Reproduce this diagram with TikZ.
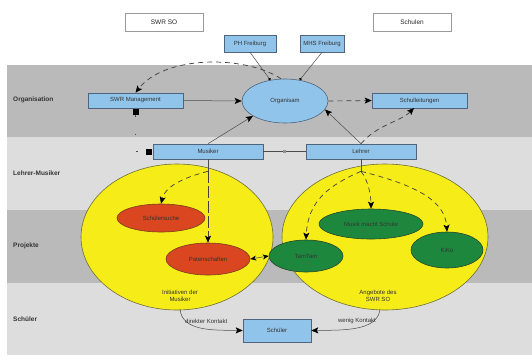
\documentclass[tikz,border=0pt]{standalone}
\usepackage{fontspec}
\setmainfont{Liberation Sans}
\usetikzlibrary{arrows.meta,shapes.geometric}
\definecolor{banddark}{RGB}{186,186,186}
\definecolor{bandlight}{RGB}{221,221,221}
\definecolor{bluefill}{RGB}{145,196,234}
\definecolor{blueline}{RGB}{80,100,125}
\definecolor{yell}{RGB}{245,236,24}
\definecolor{yellline}{RGB}{110,110,60}
\definecolor{redfill}{RGB}{217,70,32}
\definecolor{redline}{RGB}{120,60,30}
\definecolor{greenfill}{RGB}{30,135,62}
\definecolor{greenline}{RGB}{40,70,40}
\tikzset{
  txt/.style={font=\fontsize{6}{7}\selectfont, text=black!80},
  bluebox/.style={txt, draw=blueline, fill=bluefill, line width=0.6pt, inner sep=0pt},
  whitebox/.style={draw=gray!80, fill=white, line width=0.8pt, inner sep=0pt, font=\fontsize{6.5}{7}\selectfont, text=black!85},
  blobell/.style={txt, ellipse, draw=blueline, fill=bluefill, line width=0.6pt, inner sep=0pt},
  yellell/.style={ellipse, draw=yellline, fill=yell, line width=0.6pt, inner sep=0pt},
  redell/.style={txt, ellipse, draw=redline, fill=redfill, line width=0.6pt, inner sep=0pt},
  greenell/.style={txt, ellipse, draw=greenline, fill=greenfill, line width=0.6pt, inner sep=0pt},
  rowlabel/.style={anchor=west, inner sep=0pt, font=\bfseries\fontsize{6.5}{7}\selectfont, text=black!80},
  smalltext/.style={txt, align=center},
  conn/.style={line width=0.5pt, draw=black!70},
  arr/.style={-{Stealth[length=7pt,width=6pt,inset=1.5pt,color=black]}},
  dotend/.style={-{Circle[length=2.5pt,color=black]}},
  dashconn/.style={line width=0.7pt, draw=black!75, dash pattern=on 5pt off 4pt},
  sq/.style={fill=black, minimum size=6pt, inner sep=0pt},
}
\begin{document}
\begin{tikzpicture}[x=1pt,y=-1pt]
\useasboundingbox (0,0) rectangle (532,360);
\fill[white] (0,0) rectangle (532,360);
% bands
\fill[banddark] (7,65) rectangle (532,137);
\fill[bandlight] (7,137) rectangle (532,210);
\fill[banddark] (7,210) rectangle (532,283);
\fill[bandlight] (7,283) rectangle (532,355);
% row labels
\node[rowlabel] (lOrg) at (13,100) {Organisation};
\node[rowlabel] (lLM) at (13,173) {Lehrer-Musiker};
\node[rowlabel] (lPr) at (13,246) {Projekte};
\node[rowlabel] (lSc) at (13,319) {Schüler};
% top boxes
\node[whitebox, minimum width=78pt, minimum height=18pt] (swr) at (164,22) {SWR SO};
\node[whitebox, minimum width=78pt, minimum height=18pt] (schulen) at (412,22) {Schulen};
\node[bluebox, minimum width=52pt, minimum height=17pt] (ph) at (250,43.5) {PH Freiburg};
\node[bluebox, minimum width=44pt, minimum height=17pt] (mhs) at (322,43.5) {MHS Freiburg};
% yellow ellipses
\node[yellell, minimum width=192pt, minimum height=146pt] (ini) at (177,237) {};
\node[yellell, minimum width=206pt, minimum height=146pt] (ang) at (385,237) {};
\node[smalltext] (iniT) at (180,296) {Initiativen der\\Musiker};
\node[smalltext] (angT) at (378,296) {Angebote des\\SWR SO};
% organisation row
\node[bluebox, minimum width=95pt, minimum height=15pt] (mgmt) at (135.5,100.5) {SWR Management};
\node[blobell, minimum width=86pt, minimum height=44pt] (org) at (285,101) {Organisam};
\node[bluebox, minimum width=95pt, minimum height=15pt] (sl) at (419.5,100.5) {Schulleitungen};
% lehrer-musiker row
\node[bluebox, minimum width=110pt, minimum height=15pt] (mus) at (208,151.5) {Musiker};
\node[bluebox, minimum width=110pt, minimum height=15pt] (leh) at (361,151.5) {Lehrer};
% projects
\node[redell, minimum width=88pt, minimum height=28pt] (such) at (161,218) {Schülersuche};
\node[redell, minimum width=84pt, minimum height=32pt] (pat) at (208,259) {Patenschaften};
\node[greenell, minimum width=104pt, minimum height=30pt] (mms) at (371,224) {Musik macht Schule};
\node[greenell, minimum width=74pt, minimum height=32pt] (tam) at (306,256) {TamTam};
\node[greenell, minimum width=72pt, minimum height=36pt] (kiko) at (447,250) {KiKo};
% pupils
\node[bluebox, minimum width=68pt, minimum height=23pt] (sch) at (277,330.5) {Schüler};
% squares
\node[sq] (sq1) at (135.5,112) {};
\node[sq] (sq2) at (149,151.5) {};
\coordinate (corner) at (135.5,151.5);
% connectors: organisation
\draw[conn,arr] (mgmt.east) -- (org.west);
\draw[conn,arr] (mus.north) -- (org.205);
\draw[conn,arr] (leh.north) -- (org.-12);
\draw[conn,dotend] (ph.south) -- (org.125);
\draw[conn,dotend] (mhs.south) -- (org.55);
\draw[dashconn,arr] (org.100) .. controls (245,55) and (165,55) .. (mgmt.north);
\draw[dashconn,arr] (org.east) -- (sl.west);
\draw[dashconn,arr] (leh.north) .. controls (378,124) and (400,122) .. (414,108);
% squares link
\draw[line width=0.6pt, draw=black!70, dash pattern=on 1.5pt off 17pt] (sq1.south) -- (corner) -- (sq2.west);
% Musiker - Lehrer
\draw[conn] (mus.east) -- node[font=\fontsize{4.5}{5}\selectfont, fill=bandlight, inner sep=0.5pt] (eight) {8} (leh.west);
% Musiker to projects
\draw[conn] (mus.south) -- ++(0,12) coordinate (musB);
\draw[line width=0.7pt, draw=black!75, dash pattern=on 12pt off 3pt, arr] (musB) -- (pat.north);
\draw[dashconn,arr] (musB) .. controls (190,176) and (166,184) .. (such.north);
% Lehrer to projects
\draw[conn] (leh.south) -- ++(0,12) coordinate (lehB);
\draw[dashconn,arr] (lehB) .. controls (330,185) and (308,200) .. (tam.north);
\draw[dashconn,arr] (lehB) .. controls (368,180) and (371,195) .. (mms.north);
\draw[dashconn,arr] (lehB) .. controls (415,185) and (445,200) .. (kiko.north);
% Patenschaften - TamTam
\draw[conn,{Stealth[length=6pt,width=5pt,color=black]}-{Stealth[length=6pt,width=5pt,color=black]}] (pat.east) -- (tam.west);
% to pupils
\draw[conn,arr] (180,309) .. controls (182,332) and (215,330) .. (sch.west);
\node[smalltext, anchor=south west, inner sep=1pt] (dk) at (184,325) {direkter Kontakt};
\draw[conn,arr] (380,309) .. controls (378,332) and (340,330) .. (sch.east);
\node[smalltext, anchor=south east, inner sep=1pt] (wk) at (377,325) {wenig Kontakt};
\end{tikzpicture}
\end{document}
